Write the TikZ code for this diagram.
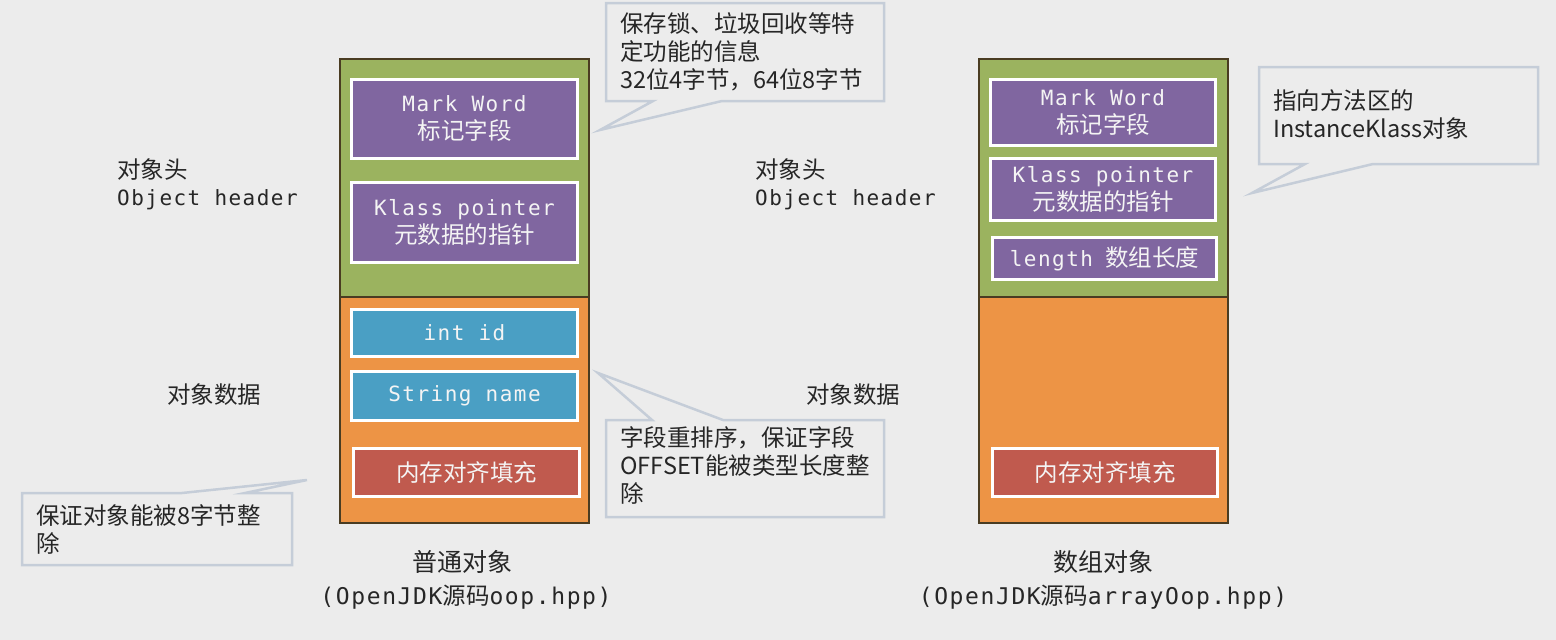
\documentclass[tikz,border=0pt]{standalone}
\usepackage{fontspec}
\setmainfont{Noto Sans CJK SC}
\newfontfamily\cjk{Noto Sans CJK SC}
\newfontfamily\mono[LetterSpace=7]{DejaVu Sans Mono}
\definecolor{bg}{HTML}{ECECEC}
\definecolor{hgreen}{HTML}{9BB35F}
\definecolor{dorange}{HTML}{ED9445}
\definecolor{purp}{HTML}{8066A0}
\definecolor{fblue}{HTML}{4A9FC4}
\definecolor{fred}{HTML}{C05A4E}
\definecolor{edge}{HTML}{4A3C22}
\definecolor{cbord}{HTML}{C5CDD8}
\definecolor{txt}{HTML}{262626}
\definecolor{boxtxt}{HTML}{F4F4F4}
\newcommand{\mtxt}[1]{{\mono\fontsize{21}{28}\selectfont #1}}
\begin{document}
\begin{tikzpicture}[x=1pt,y=-1pt,
  cn/.style={font=\cjk\fontsize{23.5}{28}\selectfont, text=txt, inner sep=0pt},
  capn/.style={font=\cjk\fontsize{25}{28}\selectfont, text=txt, inner sep=0pt},
  mn/.style={font=\mono\fontsize{21}{28}\selectfont, text=txt, inner sep=0pt},
  srcn/.style={font=\mono\fontsize{23}{28}\selectfont, text=txt, inner sep=0pt},
  field/.style={draw=white, line width=3pt, inner sep=0pt, text=boxtxt, align=center,
     font=\cjk\fontsize{23.5}{28}\selectfont},
  part/.style={draw=edge, line width=2.5pt},
  callout/.style={draw=cbord, line width=2.5pt, fill=bg, line join=miter},
  ctext/.style={cn, align=left, anchor=north west}
]
\fill[bg] (0,0) rectangle (1556,640);
\useasboundingbox (0,0) rectangle (1556,640);

% ---------- left object ----------
\draw[part, fill=hgreen] (340,59) rectangle (589,297);
\draw[part, fill=dorange] (340,297) rectangle (589,523);
\node[field, fill=purp, minimum width=226, minimum height=79] (lmw) at (464.5,119)
  {\mtxt{Mark Word}\\标记字段};
\node[field, fill=purp, minimum width=226, minimum height=80] (lkp) at (464.5,222.5)
  {\mtxt{Klass pointer}\\元数据的指针};
\node[field, fill=fblue, minimum width=226, minimum height=47] (lid) at (464.5,333)
  {\mtxt{int id}};
\node[field, fill=fblue, minimum width=226, minimum height=49] (lname) at (464.5,396)
  {\mtxt{String name}};
\node[field, fill=fred, minimum width=226, minimum height=48] (lpad) at (466.5,472.5)
  {内存对齐填充};

% ---------- right object ----------
\draw[part, fill=hgreen] (979,59) rectangle (1228,297);
\draw[part, fill=dorange] (979,297) rectangle (1228,523);
\node[field, fill=purp, minimum width=225, minimum height=66] (rmw) at (1103,112.5)
  {\mtxt{Mark Word}\\标记字段};
\node[field, fill=purp, minimum width=225, minimum height=62] (rkp) at (1103,189.5)
  {\mtxt{Klass pointer}\\元数据的指针};
\node[field, fill=purp, minimum width=224, minimum height=42] (rlen) at (1104.5,258.5)
  {\mtxt{length}\hspace{12pt}数组长度};
\node[field, fill=fred, minimum width=225, minimum height=48] (rpad) at (1105,472.5)
  {内存对齐填充};

% ---------- side labels ----------
\node[cn, anchor=west] (lhead) at (117,170) {对象头};
\node[mn, anchor=west] (lhead2) at (117,200) {Object header};
\node[cn] (ldata) at (214,395) {对象数据};
\node[cn, anchor=west] (rhead) at (755,170) {对象头};
\node[mn, anchor=west] (rhead2) at (755,200) {Object header};
\node[cn] (rdata) at (853,395) {对象数据};

% ---------- bottom captions ----------
\node[capn] (lcap) at (462,562) {普通对象};
\node[srcn] (lsrc) at (466,597) {(OpenJDK{\cjk\fontsize{23.5}{28}\selectfont 源码}oop.hpp)};
\node[capn] (rcap) at (1103,562) {数组对象};
\node[srcn] (rsrc) at (1103,597) {(OpenJDK{\cjk\fontsize{23.5}{28}\selectfont 源码}arrayOop.hpp)};

% ---------- callouts ----------
\draw[callout] (606,3) -- (884,3) -- (884,101) -- (722,101) -- (600,130)
  -- (653,101) -- (606,101) -- cycle;
\node[ctext] (c1) at (620,12) {保存锁、垃圾回收等特\\定功能的信息\\32位4字节，64位8字节};

\draw[callout] (606,420) -- (652,420) -- (598,373) -- (723,420) -- (884,420)
  -- (884,517) -- (606,517) -- cycle;
\node[ctext] (c2) at (620,426) {字段重排序，保证字段\\OFFSET能被类型长度整\\除};

\draw[callout] (22,493) -- (182,493) -- (307,480) -- (245,493) -- (292,493)
  -- (292,565) -- (22,565) -- cycle;
\node[ctext] (c3) at (36,504) {保证对象能被8字节整\\除};

\draw[callout] (1259,67) -- (1538,67) -- (1538,164) -- (1373,164) -- (1252,193)
  -- (1305,164) -- (1259,164) -- cycle;
\node[ctext] (c4) at (1273,89) {指向方法区的\\InstanceKlass对象};
\end{tikzpicture}
\end{document}
